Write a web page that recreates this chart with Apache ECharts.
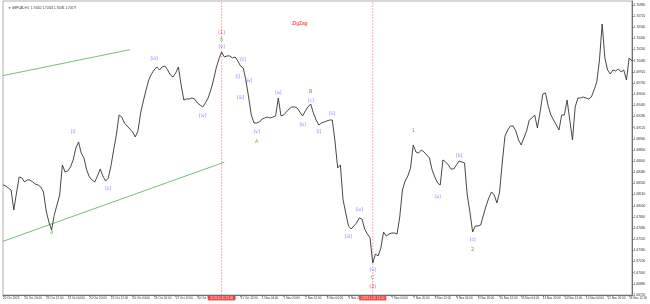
<!DOCTYPE html>
<html>
<head>
<meta charset="utf-8">
<script src="https://cdn.jsdelivr.net/npm/echarts@6/dist/echarts.min.js"></script>
<style>
html,body{margin:0;padding:0;background:#fff;}
#chart{width:650px;height:304px;}
</style>
</head>
<body>
<div id="chart"></div>
<script>
const closePrices = [
1.68298,1.68284,1.68255,1.68226,1.67939,1.68183,1.68413,1.68398,1.68341,1.68370,
1.68370,1.68341,1.68312,1.68298,1.68269,1.68198,1.67925,1.67767,1.67652,1.67868,
1.68011,1.68155,1.68585,1.68484,1.68499,1.68556,1.68657,1.68829,1.68915,1.68757,
1.68685,1.68513,1.68413,1.68370,1.68341,1.68427,1.68527,1.68427,1.68355,1.68398,
1.68571,1.68800,1.69015,1.69302,1.69273,1.69187,1.69144,1.69101,1.69058,1.68987,
1.69073,1.69331,1.69503,1.69661,1.69804,1.69890,1.69948,1.69991,1.69948,1.69991,
1.70005,1.69948,1.69876,1.69847,1.69905,1.69991,1.69732,1.69517,1.69532,1.69532,
1.69546,1.69532,1.69474,1.69446,1.69417,1.69474,1.69546,1.69661,1.69804,1.69976,
1.70105,1.70206,1.70134,1.70149,1.70149,1.70120,1.70134,1.70077,1.70005,1.69976,
1.69804,1.69560,1.69302,1.69187,1.69187,1.69202,1.69245,1.69259,1.69273,1.69259,
1.69273,1.69288,1.69546,1.69288,1.69302,1.69345,1.69388,1.69417,1.69417,1.69403,
1.69345,1.69288,1.69360,1.69417,1.69460,1.69331,1.69230,1.69159,1.69187,1.69202,
1.69216,1.69230,1.69230,1.68929,1.68542,1.68585,1.68083,1.67896,1.67710,1.67667,
1.67710,1.67753,1.67825,1.67810,1.67667,1.67595,1.67538,1.67179,1.67308,1.67280,
1.67394,1.67624,1.67566,1.67595,1.67609,1.67609,1.67595,1.67839,1.68226,1.68355,
1.68427,1.68542,1.68872,1.68771,1.68757,1.68800,1.68771,1.68728,1.68685,1.68513,
1.68413,1.68327,1.68298,1.68657,1.68628,1.68585,1.68527,1.68527,1.68585,1.68642,
1.68628,1.68614,1.68155,1.67911,1.67624,1.67710,1.67710,1.67724,1.67868,1.67997,
1.68112,1.68198,1.68155,1.68040,1.68198,1.68628,1.69001,1.69087,1.69144,1.69144,
1.69073,1.68944,1.68872,1.68972,1.69073,1.69230,1.69259,1.69302,1.69116,1.69345,
1.69603,1.69618,1.69431,1.69302,1.69230,1.69159,1.69087,1.69302,1.69302,1.69517,
1.69230,1.68944,1.69417,1.69546,1.69546,1.69560,1.69546,1.69532,1.69560,1.69661,
1.69775,1.70091,1.70607,1.70120,1.69948,1.69890,1.69948,1.69933,1.69962,1.69919,
1.69948,1.69804,1.70120,1.70077
];
const categories = closePrices.map((_, i) => String(i));

// bottom time-axis tick labels (one every 8 samples = 16 H1 bars)
const xTickLabels = [
'20 Oct 2023','20 Oct 20:00','23 Oct 12:00','24 Oct 04:00','24 Oct 20:00','25 Oct 12:00',
'26 Oct 04:00','26 Oct 20:00','27 Oct 12:00','30 Oct 04:00','30 Oct 20:00','31 Oct 12:00',
'1 Nov 04:00','1 Nov 20:00','2 Nov 12:00','3 Nov 04:00','3 Nov 20:00','6 Nov 12:00',
'7 Nov 04:00','7 Nov 20:00','8 Nov 12:00','9 Nov 04:00','9 Nov 20:00','10 Nov 12:00',
'13 Nov 04:00','13 Nov 20:00','14 Nov 12:00','15 Nov 04:00','15 Nov 20:00','16 Nov 12:00'
];
const xTickEvery = 8;

// price scale
const yMin = 1.66720;
const yMax = 1.70937;
const yStep = 0.00160;

// vertical time lines: [category index, label]
const vLines = [[81, '2023.10.30 22:00'], [137, '2023.11.06 14:00']];

// trend lines: [[cat, price], [cat, price]]
const trendUpper = [[0, 1.69867], [47, 1.70239]];
const trendLower = [[0, 1.67490], [82, 1.68625]];

// wave labels: [cat, price, text]
const blueLabels = [
[26,1.69058,'[i]'],[39,1.68241,'[ii]'],[56,1.70105,'[iii]'],[74,1.69288,'[iv]'],[81,1.70278,'[v]'],
[87,1.69847,'[i]'],[89,1.70091,'[ii]'],[88,1.69546,'[iii]'],[91,1.69790,'[iv]'],[94,1.69058,'[v]'],
[102,1.69618,'[a]'],[111,1.69159,'[b]'],[114,1.69503,'[c]'],
[117,1.69058,'[i]'],[122,1.69316,'[ii]'],[128,1.67552,'[iii]'],[132,1.67939,'[iv]'],[137,1.67079,'[v]'],
[161,1.68126,'[a]'],[169,1.68714,'[b]'],[174,1.67509,'[c]']
];
const greenLabels = [
[18,1.67609,'4'],[81,1.70378,'5'],[94,1.68915,'A'],[114,1.69632,'B'],[137,1.66964,'C'],
[152,1.69073,'1'],[174,1.67366,'2']
];
const redLabels = [[81,1.70478,'(1)'],[137,1.66835,'(2)']];

function labelSeries(arr, color, size) {
  return {
    type: 'scatter', symbolSize: 0, silent: true, z: 5,
    data: arr.map(d => ({ value: [d[0], d[1]], name: d[2] })),
    label: { show: true, position: 'inside', formatter: p => p.name,
             color: color, fontSize: size, fontFamily: 'DejaVu Sans' }
  };
}

// vertical line series (one per time line) + red time tag on the axis
const vLineSeries = vLines.map(v => ({
  type: 'line', symbol: 'none', silent: true, z: 1, color: '#f59a9a',
  data: [[v[0], yMin], [v[0], yMax]],
  lineStyle: { color: '#f59a9a', width: 0.8, type: [2, 1] }
}));
const vTagSeries = {
  type: 'scatter', symbolSize: 0, silent: true, z: 6,
  data: vLines.map(v => ({ value: [v[0], yMin], name: v[1] })),
  label: { show: true, position: 'bottom', distance: 1, color: '#fff', backgroundColor: '#ff2020',
           fontSize: 3, padding: [1, 2, 0.5, 2], fontFamily: 'Liberation Sans', formatter: p => p.name }
};

const chart = echarts.init(document.getElementById('chart'), null, { renderer: 'canvas' });
chart.setOption({
  animation: false,
  backgroundColor: '#ffffff',
  title: [
    { text: '▼ GBPCAD,H1  1.70052 1.70118 1.70031 1.70077', left: 3, top: 2,
      textStyle: { fontSize: 3, fontWeight: 'normal', color: '#333', fontFamily: 'Liberation Sans' } },
    { text: 'ZigZag', left: 287, top: 16,
      textStyle: { fontSize: 5, fontWeight: 'normal', color: '#ff2020', fontFamily: 'Liberation Sans' } }
  ],
  grid: { left: 2, right: 17, top: 1, bottom: 9, show: true, borderColor: '#9a9a9a', borderWidth: 0.8 },
  xAxis: {
    type: 'category', data: categories, boundaryGap: false,
    axisLine: { lineStyle: { color: '#555', width: 0.8 } },
    axisTick: { interval: xTickEvery - 1, length: 2, lineStyle: { color: '#555', width: 0.6 } },
    axisLabel: { interval: xTickEvery - 1, align: 'left', margin: 2, fontSize: 3, color: '#333',
                 fontFamily: 'Liberation Sans',
                 formatter: (v, idx) => (idx % xTickEvery === 0 ? (xTickLabels[idx / xTickEvery] || '') : '') },
    splitLine: { show: false }
  },
  yAxis: {
    type: 'value', position: 'right', min: yMin, max: yMax, interval: yStep, scale: true,
    axisLine: { show: true, lineStyle: { color: '#555', width: 0.8 } },
    axisTick: { show: true, length: 2, lineStyle: { color: '#555', width: 0.6 } },
    axisLabel: { showMaxLabel: false, margin: 2, fontSize: 3.2, color: '#333', fontFamily: 'Liberation Sans',
                 formatter: v => v.toFixed(5) },
    splitLine: { show: false }
  },
  series: [
    ...vLineSeries,
    { type: 'line', data: closePrices, symbol: 'none', z: 3, silent: true,
      lineStyle: { color: '#333333', width: 0.9 } },
    { type: 'line', data: trendUpper, symbol: 'none', silent: true, z: 2,
      lineStyle: { color: '#4fae4f', width: 0.8 } },
    { type: 'line', data: trendLower, symbol: 'none', silent: true, z: 2,
      lineStyle: { color: '#4fae4f', width: 0.8 } },
    labelSeries(blueLabels, '#5555ff', 4.5),
    labelSeries(greenLabels, '#1f9e1f', 5),
    labelSeries(redLabels, '#ff2020', 5),
    vTagSeries
  ]
});
</script>
</body>
</html>
